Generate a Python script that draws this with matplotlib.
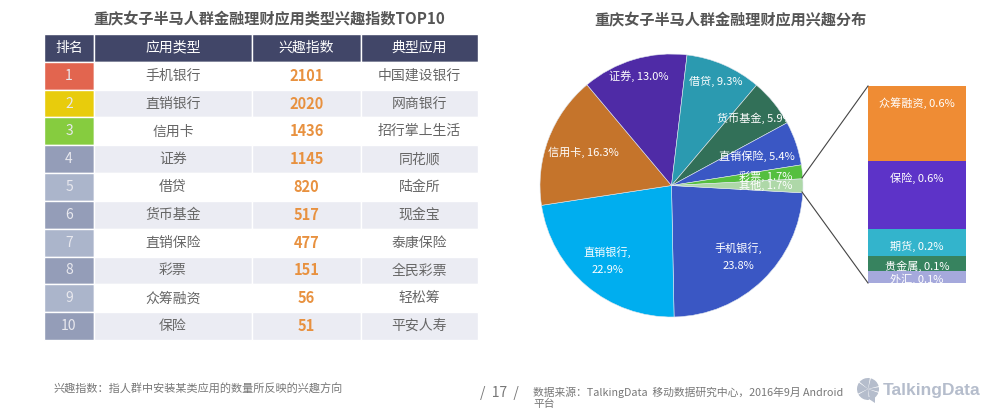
import matplotlib
matplotlib.use('Agg')
import matplotlib.pyplot as plt
from matplotlib.patches import Wedge, Polygon
from matplotlib.lines import Line2D

plt.rcParams['font.family'] = ['Noto Sans CJK SC', 'DejaVu Sans']

# table data
headers = ['排名', '应用类型', '兴趣指数', '典型应用']
ranks = ['1', '2', '3', '4', '5', '6', '7', '8', '9', '10']
app_types = ['手机银行', '直销银行', '信用卡', '证券', '借贷', '货币基金', '直销保险', '彩票', '众筹融资', '保险']
indices = [2101, 2020, 1436, 1145, 820, 517, 477, 151, 56, 51]
typical_apps = ['中国建设银行', '网商银行', '招行掌上生活', '同花顺', '陆金所', '现金宝', '泰康保险', '全民彩票', '轻松筹', '平安人寿']
rank_colors = ['#e2654f', '#e8cc0c', '#86cc3f', '#949db8', '#abb5cb',
               '#949db8', '#abb5cb', '#949db8', '#abb5cb', '#949db8']

# pie data
pie_labels = ['手机银行', '直销银行', '信用卡', '证券', '借贷', '货币基金', '直销保险', '彩票', '其他']
pie_values = [23.8, 22.9, 16.3, 13.0, 9.3, 5.9, 5.4, 1.7, 1.7]
pie_colors = ['#3a57c4', '#00aeef', '#c5742b', '#4f2ba6', '#2b9ab0', '#327058', '#3a57c4', '#55bf3f', '#aed8a8']

# breakdown of 其他
other_labels = ['众筹融资', '保险', '期货', '贵金属', '外汇']
other_values = [0.645, 0.587, 0.236, 0.130, 0.104]
other_colors = ['#ef8c34', '#5d33c8', '#33b4cc', '#37835f', '#a5a9dc']

W, H = 1000, 420
fig = plt.figure(figsize=(W / 100, H / 100), dpi=100, facecolor='white')


def px_axes(x0, y0, x1, y1):
    """Axes from pixel box, y counted from the top of the image."""
    return fig.add_axes([x0 / W, 1 - y1 / H, (x1 - x0) / W, (y1 - y0) / H])


# --- table ---
ax_tbl = px_axes(44, 34, 478, 340)
ax_tbl.axis('off')
cells = [[r, a, str(v), t] for r, a, v, t in zip(ranks, app_types, indices, typical_apps)]
tbl = ax_tbl.table(cellText=[headers] + cells, colWidths=[50, 158, 109, 117],
                   bbox=[0, 0, 1, 1], cellLoc='center')
tbl.auto_set_font_size(False)
for (row, col), cell in tbl.get_celld().items():
    cell.set_edgecolor('white')
    cell.set_linewidth(1.0)
    txt = cell.get_text()
    txt.set_fontsize(10)
    if row == 0:
        cell.set_facecolor('#414668')
        txt.set_color('white')
    elif col == 0:
        cell.set_facecolor(rank_colors[row - 1])
        txt.set_color('#e8e8ee')
    else:
        cell.set_facecolor('#ebecf3' if row % 2 == 0 else 'white')
        txt.set_color('#666666')
        if col == 2:
            txt.set_color('#e8913f')
            txt.set_fontweight('bold')
            txt.set_fontsize(10.5)

fig.text(269 / W, 1 - 19 / H, '重庆女子半马人群金融理财应用类型兴趣指数TOP10', ha='center', va='center',
         fontsize=10.9, fontweight='bold', color='#555555')

# --- pie ---
ax_pie = px_axes(530, 44, 813, 327)
wedges, _ = ax_pie.pie(pie_values, colors=pie_colors, startangle=-3.2, counterclock=False,
                       radius=1, wedgeprops=dict(edgecolor='#dfe6ee', linewidth=0.4))
ax_pie.set_xlim(-141.5 / 131.5, 141.5 / 131.5)
ax_pie.set_ylim(-141.5 / 131.5, 141.5 / 131.5)

pie_text_pos = {
    '手机银行': (0.51, -0.54), '直销银行': (-0.49, -0.57), '信用卡': (-0.67, 0.25), '证券': (-0.25, 0.83),
    '借贷': (0.34, 0.79), '货币基金': (0.635, 0.51), '直销保险': (0.65, 0.22), '彩票': (0.72, 0.07), '其他': (0.72, 0.0),
}
for lab, val in zip(pie_labels, pie_values):
    x, y = pie_text_pos[lab]
    sep = ',\n' if lab in ('手机银行', '直销银行') else ', '
    ax_pie.text(x, y, f'{lab}{sep}{val:.1f}%', ha='center', va='center', fontsize=8,
                color='white', linespacing=1.8)

fig.text(730 / W, 1 - 20 / H, '重庆女子半马人群金融理财应用兴趣分布', ha='center', va='center',
         fontsize=10.9, fontweight='bold', color='#555555')

# --- stacked bar for 其他 ---
ax_bar = px_axes(868, 86, 966, 283)
ax_bar.axis('off')
total = sum(other_values)
ax_bar.set_xlim(0, 1)
ax_bar.set_ylim(total, 0)
top = 0
for lab, val, col in zip(other_labels, other_values, other_colors):
    ax_bar.bar(0.5, val, width=1, bottom=top, color=col, linewidth=0)
    # labels in the big blocks sit near the top, small blocks low in the block
    ty = top + 0.15 * total / 1.7 if val > 0.4 else top + val * 0.67
    ax_bar.text(0.5, ty, f'{lab}, {val:.1f}%', ha='center', va='center', fontsize=8, color='white')
    top += val

# connector lines pie -> bar
for y0, y1 in ((1 - 178 / H, 1 - 86 / H), (1 - 192 / H, 1 - 283 / H)):
    fig.add_artist(Line2D([802 / W, 868 / W], [y0, y1], color='#444444', lw=0.8))

# --- footer ---
fig.text(54 / W, 1 - 389 / H, '兴趣指数：指人群中安装某类应用的数量所反映的兴趣方向', ha='left', va='center',
         fontsize=8, color='#777777')
fig.text(499 / W, 1 - 393 / H, '/  17  /', ha='center', va='center', fontsize=10, color='#777777')
fig.text(533 / W, 1 - 392 / H, '数据来源：TalkingData  移动数据研究中心，2016年9月 Android', ha='left', va='center',
         fontsize=7.75, color='#777777')
fig.text(533 / W, 1 - 404 / H, '平台', ha='left', va='center', fontsize=7.75, color='#777777')

# logo
ax_logo = fig.add_axes([0, 0, 1, 1], facecolor='none')
ax_logo.set_xlim(0, W)
ax_logo.set_ylim(H, 0)
ax_logo.axis('off')
ax_logo.set_zorder(-1)
for a0, a1 in ((20, 80), (85, 150), (155, 215), (220, 280), (285, 345), (350, 375)):
    ax_logo.add_patch(Wedge((868, 389), 11, a0, a1, color='#b5bdcc', lw=0))
ax_logo.add_patch(Polygon([(866, 397), (875, 397), (875, 403)], color='#b5bdcc', lw=0))
fig.text(883 / W, 1 - 391 / H, 'TalkingData', ha='left', va='center', fontsize=12.5, fontweight='bold',
         family='Liberation Sans', color='#b5bdcc')

fig.savefig('out.png', dpi=100)
